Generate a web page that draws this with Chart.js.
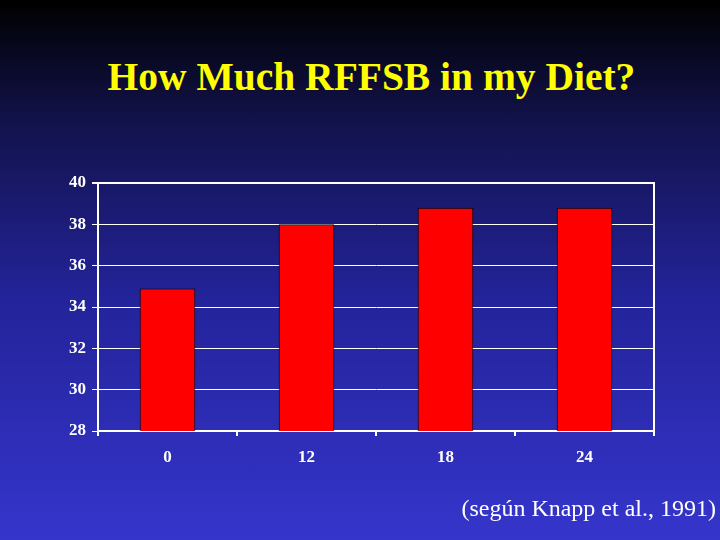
<!DOCTYPE html>
<html>
<head>
<meta charset="utf-8">
<script src="https://cdn.jsdelivr.net/npm/chart.js@4/dist/chart.umd.min.js"></script>
<style>
  html, body { margin: 0; padding: 0; }
  body {
    width: 720px; height: 540px; position: relative; overflow: hidden;
    background: linear-gradient(to bottom, #000000 0%, #12124a 22%, #23239a 55%, #3535cc 100%);
    font-family: "Liberation Serif", "Times New Roman", serif;
  }
  #title {
    position: absolute; left: 0; width: 743px; top: 54px;
    text-align: center; color: #ffff00; font-weight: bold; font-size: 39.5px;
  }
  #note {
    position: absolute; right: 4px; top: 495px;
    color: #ffffff; font-size: 24px;
  }
  #chart { position: absolute; left: 0; top: 0; }
</style>
</head>
<body>
<div id="title">How Much RFFSB in my Diet?</div>
<canvas id="chart" width="720" height="540"></canvas>
<div id="note">(según Knapp et al., 1991)</div>
<script>
// values
var categories = ['0', '12', '18', '24'];
var values = [34.9, 38.0, 38.8, 38.8];
var yMin = 28, yMax = 40, yStep = 2;

var font = { family: "'Liberation Serif', 'Times New Roman', serif", size: 17, weight: 'bold' };

function draw() {
    var ctx = document.getElementById('chart');
    new Chart(ctx, {
        type: 'bar',
        data: {
            labels: categories,
            datasets: [{
                data: values,
                backgroundColor: '#ff0000',
                borderColor: '#000000',
                borderWidth: 1,
                categoryPercentage: 1,
                barPercentage: 0.4
            }]
        },
        options: {
            responsive: false,
            animation: false,
            layout: { padding: { left: 0, right: 66, top: 183, bottom: 69 } },
            plugins: { legend: { display: false }, tooltip: { enabled: false } },
            scales: {
                x: {
                    grid: { drawOnChartArea: false, drawTicks: true, tickLength: 5, color: '#ffffff', lineWidth: 2, offset: true },
                    border: { color: '#ffffff', width: 2 },
                    ticks: { color: '#ffffff', font: font, padding: 11 },
                    afterFit: function (s) { s.height = 40; }
                },
                y: {
                    min: yMin, max: yMax,
                    ticks: { stepSize: yStep, color: '#ffffff', font: font, padding: 6 },
                    grid: {
                        color: '#ffffff',
                        lineWidth: function (c) { return c.tick && c.tick.value === yMax ? 2 : 1; },
                        tickLength: 6
                    },
                    border: { color: '#ffffff', width: 2 },
                    afterFit: function (s) { s.width = 98; }
                },
                y2: {
                    position: 'right',
                    min: yMin, max: yMax,
                    ticks: { display: false },
                    grid: { drawOnChartArea: false, drawTicks: false },
                    border: { color: '#ffffff', width: 2 },
                    afterFit: function (s) { s.width = 0; }
                }
            }
        }
    });
}

if (document.fonts && document.fonts.load) {
    document.fonts.load("bold 17px 'Liberation Serif'").then(draw, draw);
} else {
    draw();
}
</script>
</body>
</html>
